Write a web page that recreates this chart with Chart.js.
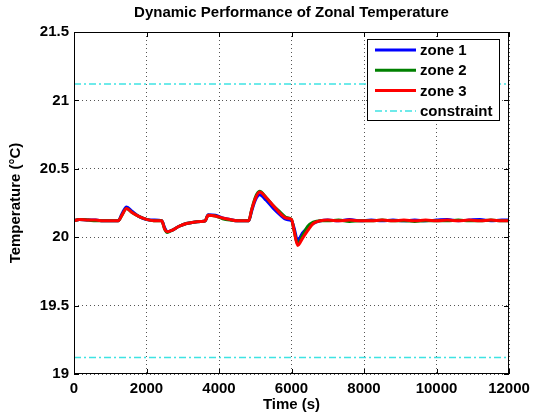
<!DOCTYPE html>
<html>
<head>
<meta charset="utf-8">
<script src="https://cdn.jsdelivr.net/npm/chart.js@4/dist/chart.umd.min.js"></script>
<style>
  html, body { margin: 0; padding: 0; background: #fff; }
  #wrap { width: 543px; height: 417px; }
</style>
</head>
<body>
<div id="wrap"><canvas id="chart" width="543" height="417"></canvas></div>
<script>
  "use strict";

  // time stamps (s)
  const times = [0, 150, 400, 600, 800, 1000, 1220, 1320, 1450, 1600, 1800, 2000, 2200, 2420, 2500, 2570,
    2700, 2900, 3100, 3300, 3500, 3620, 3700, 3900, 4100, 4300, 4500, 4700, 4820, 4900, 5000, 5120,
    5300, 5500, 5700, 5850, 6000, 6070, 6170, 6300, 6450, 6600, 6800, 7000, 7300, 7600, 7900, 8200,
    8500, 8800, 9100, 9400, 9700, 10000, 10300, 10600, 10900, 11200, 11500, 11800, 12000];

  const zone1 = [20.12, 20.13, 20.125, 20.125, 20.12, 20.12, 20.12, 20.17, 20.22, 20.19, 20.15, 20.13, 20.125, 20.12, 20.07, 20.04,
    20.05, 20.08, 20.10, 20.11, 20.115, 20.12, 20.165, 20.16, 20.14, 20.13, 20.12, 20.12, 20.12, 20.19, 20.27, 20.31,
    20.27, 20.21, 20.16, 20.13, 20.12, 20.07, 19.975, 20.03, 20.07, 20.10, 20.12, 20.125, 20.12, 20.13, 20.12, 20.125,
    20.12, 20.125, 20.12, 20.125, 20.12, 20.125, 20.13, 20.12, 20.125, 20.13, 20.12, 20.125, 20.125];

  const zone2 = [20.12, 20.13, 20.125, 20.12, 20.12, 20.12, 20.12, 20.16, 20.21, 20.18, 20.15, 20.13, 20.12, 20.12, 20.06, 20.035,
    20.05, 20.08, 20.10, 20.11, 20.115, 20.12, 20.16, 20.155, 20.135, 20.125, 20.12, 20.12, 20.12, 20.20, 20.29, 20.335,
    20.29, 20.23, 20.18, 20.145, 20.13, 20.05, 19.95, 20.01, 20.08, 20.11, 20.12, 20.12, 20.125, 20.115, 20.12, 20.12,
    20.125, 20.12, 20.12, 20.115, 20.12, 20.12, 20.12, 20.125, 20.12, 20.12, 20.125, 20.12, 20.12];

  const zone3 = [20.12, 20.13, 20.125, 20.125, 20.12, 20.12, 20.12, 20.16, 20.21, 20.18, 20.15, 20.13, 20.12, 20.12, 20.06, 20.04,
    20.05, 20.08, 20.10, 20.11, 20.115, 20.12, 20.16, 20.155, 20.14, 20.13, 20.12, 20.12, 20.12, 20.20, 20.28, 20.33,
    20.29, 20.23, 20.17, 20.14, 20.13, 20.05, 19.94, 19.99, 20.05, 20.10, 20.12, 20.125, 20.12, 20.125, 20.12, 20.12,
    20.125, 20.12, 20.125, 20.12, 20.125, 20.12, 20.125, 20.12, 20.125, 20.12, 20.125, 20.12, 20.12];

  const constraintLevels = [21.12, 19.12];
  const xRange = [0, 12000];
  const xTicks = [0, 2000, 4000, 6000, 8000, 10000, 12000];
  const yTicks = [19, 19.5, 20, 20.5, 21, 21.5];

  const FONT = "'Liberation Sans', Arial, Helvetica, sans-serif";
  const FS = 15;

  function toPoints(xs, ys) {
    return xs.map((x, i) => ({ x, y: ys[i] }));
  }

  function zoneSet(label, values, color, order) {
    return {
      label,
      data: toPoints(times, values),
      borderColor: color,
      backgroundColor: color,
      borderWidth: 3,
      pointRadius: 0,
      cubicInterpolationMode: "monotone",
      order,
    };
  }

  const constraintSets = constraintLevels.map((v, i) => ({
    label: "constraint",
    data: toPoints(xRange, [v, v]),
    borderColor: "#3fe3e3",
    backgroundColor: "#3fe3e3",
    borderWidth: 1.5,
    borderDash: [7, 3, 2, 3],
    pointRadius: 0,
    order: 4,
    inLegend: i === 0,
  }));

  // MATLAB-style box, inward ticks and in-plot legend
  const axesDecor = {
    id: "axesDecor",
    afterDraw(chart) {
      const { ctx, chartArea: a, scales } = chart;
      ctx.save();
      ctx.strokeStyle = "#000";
      ctx.lineWidth = 1;
      ctx.strokeRect(a.left + 0.5, a.top + 0.5, a.right - a.left - 1, a.bottom - a.top - 1);
      const tl = 5;
      ctx.beginPath();
      xTicks.forEach((t) => {
        const px = Math.round(scales.x.getPixelForValue(t)) + 0.5;
        ctx.moveTo(px, a.bottom); ctx.lineTo(px, a.bottom - tl);
        ctx.moveTo(px, a.top); ctx.lineTo(px, a.top + tl);
      });
      yTicks.forEach((t) => {
        const py = Math.round(scales.y.getPixelForValue(t)) + 0.5;
        ctx.moveTo(a.left, py); ctx.lineTo(a.left + tl, py);
        ctx.moveTo(a.right, py); ctx.lineTo(a.right - tl, py);
      });
      ctx.stroke();

      // legend
      const items = chart.data.datasets.filter((d) => d.inLegend !== false);
      const bw = 132, bh = 81;
      const bx = Math.round(a.right - bw - 10), by = Math.round(a.top + 7);
      ctx.fillStyle = "#fff";
      ctx.fillRect(bx, by, bw, bh);
      ctx.strokeRect(bx + 0.5, by + 0.5, bw, bh);
      ctx.font = "bold " + FS + "px " + FONT;
      ctx.textBaseline = "middle";
      items.forEach((d, i) => {
        const y = by + 11 + i * 20.3;
        ctx.beginPath();
        ctx.strokeStyle = d.borderColor;
        ctx.lineWidth = d.borderWidth;
        ctx.setLineDash(d.borderDash || []);
        ctx.moveTo(bx + 8, y); ctx.lineTo(bx + 49, y);
        ctx.stroke();
        ctx.setLineDash([]);
        ctx.fillStyle = "#000";
        ctx.fillText(d.label, bx + 53, y + 1);
      });
      ctx.restore();
    },
  };

  const tickFont = { family: FONT, size: FS, weight: "bold" };

  new Chart(document.getElementById("chart").getContext("2d"), {
    type: "line",
    data: {
      datasets: [
        zoneSet("zone 1", zone1, "#0000ff", 3),
        zoneSet("zone 2", zone2, "#008000", 2),
        zoneSet("zone 3", zone3, "#ff0000", 1),
        ...constraintSets,
      ],
    },
    options: {
      responsive: false,
      animation: false,
      events: [],
      layout: { padding: { top: 0, right: 34, left: 0, bottom: 0 } },
      scales: {
        x: {
          type: "linear",
          min: xRange[0],
          max: xRange[1],
          afterBuildTicks: (s) => { s.ticks = xTicks.map((v) => ({ value: v })); },
          afterFit: (s) => { s.height = 43; },
          ticks: { color: "#000", font: tickFont, padding: 6, maxRotation: 0, callback: (v) => String(v) },
          grid: { color: "#555", drawTicks: false },
          border: { display: false, dash: [1, 3] },
          title: { display: true, text: "Time (s)", color: "#000", font: tickFont, padding: { top: 0, bottom: 3 } },
        },
        y: {
          type: "linear",
          min: yTicks[0],
          max: yTicks[yTicks.length - 1],
          afterBuildTicks: (s) => { s.ticks = yTicks.map((v) => ({ value: v })); },
          afterFit: (s) => { s.width = 74; },
          ticks: { color: "#000", font: tickFont, padding: 5, callback: (v) => String(v) },
          grid: { color: "#555", drawTicks: false },
          border: { display: false, dash: [1, 3] },
          title: { display: true, text: "Temperature (°C)", color: "#000", font: tickFont, padding: { top: 7, bottom: 0 } },
        },
      },
      plugins: {
        legend: { display: false },
        tooltip: { enabled: false },
        title: {
          display: true,
          fullSize: false,
          text: "Dynamic Performance of Zonal Temperature",
          color: "#000",
          font: tickFont,
          padding: { top: 4, bottom: 10 },
        },
      },
    },
    plugins: [axesDecor],
  });
</script>
</body>
</html>
